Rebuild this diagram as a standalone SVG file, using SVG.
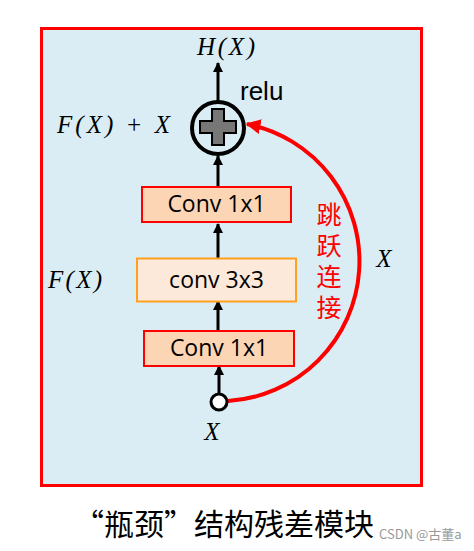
<svg xmlns="http://www.w3.org/2000/svg" width="474" height="551" viewBox="0 0 474 551">
<defs>
<marker id="ab" viewBox="0 0 10 10" refX="9" refY="5" markerWidth="10" markerHeight="10" markerUnits="userSpaceOnUse" orient="auto"><path d="M0,0 L10,5 L0,10 Z" fill="#000"/></marker>
<marker id="ar" viewBox="0 0 10 10" refX="9" refY="5" markerWidth="15" markerHeight="15" markerUnits="userSpaceOnUse" orient="auto"><path d="M0,0 L10,5 L0,10 Z" fill="#ff0000"/></marker>
<style>
.math{font-family:"Liberation Serif",serif;font-style:italic;font-size:25px;fill:#000}
.box{font-family:"Open Sans","Liberation Sans",sans-serif;font-size:23px;fill:#000;text-anchor:middle}
.cn{font-family:"Noto Sans CJK SC",sans-serif}
.blk{stroke:#000;stroke-width:3;fill:none}
</style>
</defs>
<rect x="0" y="0" width="474" height="551" fill="#fff"/>
<rect x="41.5" y="28.5" width="380" height="457" fill="#daedf4" stroke="#ff0000" stroke-width="3"/>
<g id="connectors">
<line x1="218" y1="101" x2="218" y2="63" class="blk" marker-end="url(#ab)"/>
<line x1="218" y1="187" x2="218" y2="156" class="blk" marker-end="url(#ab)"/>
<line x1="218" y1="258" x2="218" y2="224" class="blk" marker-end="url(#ab)"/>
<line x1="218" y1="331" x2="218" y2="301" class="blk" marker-end="url(#ab)"/>
<line x1="219" y1="394" x2="219" y2="366" class="blk" marker-end="url(#ab)"/>
<path d="M228 401 A140 140 0 0 0 247 124" fill="none" stroke="#ff0000" stroke-width="4" marker-end="url(#ar)"/>
</g>
<g id="add">
<circle cx="218" cy="128" r="26" fill="none" stroke="#000" stroke-width="4"/>
<path d="M212 109 H224 V121 H236 V133 H224 V145 H212 V133 H200 V121 H212 Z" fill="#777" stroke="#000" stroke-width="2"/>
</g>
<g id="conv1_top">
<rect x="142" y="187" width="149" height="35" fill="#fcd5b5" stroke="#ff0000" stroke-width="2"/>
<text x="216.5" y="212" class="box">Conv 1x1</text>
</g>
<g id="conv3">
<rect x="137" y="258.5" width="159" height="43" fill="#fde9d9" stroke="#ffa020" stroke-width="2"/>
<text x="216.5" y="288" class="box">conv 3x3</text>
</g>
<g id="conv1_bot">
<rect x="144" y="331" width="150" height="35" fill="#fcd5b5" stroke="#ff0000" stroke-width="2"/>
<text x="219" y="356" class="box">Conv 1x1</text>
</g>
<g id="input">
<circle cx="219" cy="402" r="8" fill="#fff" stroke="#000" stroke-width="3"/>
</g>
<text x="197" y="55" class="math" textLength="58" lengthAdjust="spacing">H(X)</text>
<text x="240" y="100" font-family="Liberation Sans,sans-serif" font-size="26" fill="#000">relu</text>
<text x="57" y="133" class="math" textLength="113" lengthAdjust="spacing">F(X) + X</text>
<text x="48" y="288" class="math" textLength="54" lengthAdjust="spacing">F(X)</text>
<text x="212" y="440" class="math" text-anchor="middle">X</text>
<text x="384" y="267" class="math" text-anchor="middle">X</text>
<text x="329" y="202" class="cn" font-size="25" fill="#ff0000" writing-mode="tb" letter-spacing="6">跳跃连接</text>
<text x="224" y="535" class="cn" font-size="30" fill="#000" text-anchor="middle">“瓶颈”结构残差模块</text>
<text x="379" y="539" class="cn" font-size="13" fill="#999">CSDN @古董a</text>
</svg>
